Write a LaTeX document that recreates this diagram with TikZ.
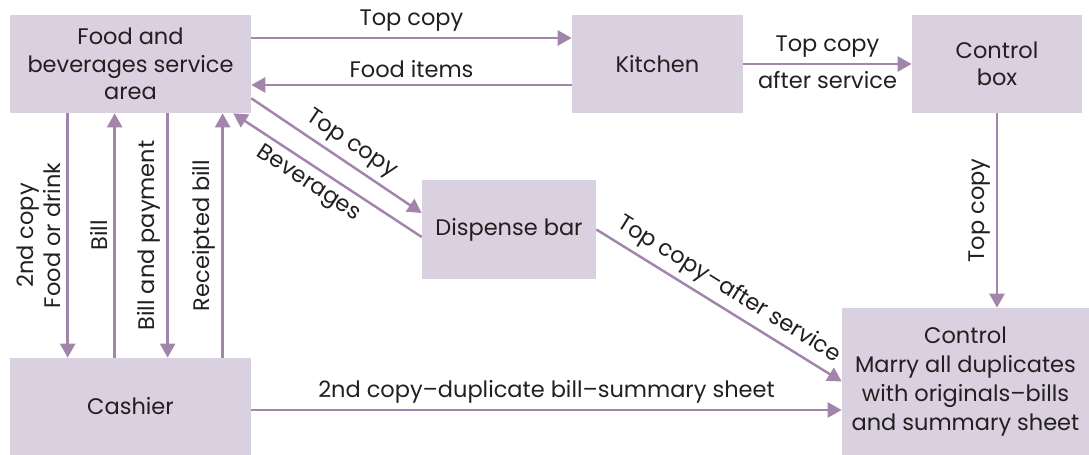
\documentclass[tikz,border=0pt]{standalone}
\usepackage{fontspec}
\setmainfont{Poppins}
\usetikzlibrary{arrows.meta}
\definecolor{boxlilac}{RGB}{217, 209, 224}
\definecolor{flowpurple}{RGB}{161, 133, 170}
\definecolor{inkgray}{RGB}{35, 31, 32}

\begin{document}
\begin{tikzpicture}[x=0.02cm, y=-0.02cm, text=inkgray, font=\fontsize{12.8}{15.5}\selectfont,
    boxnode/.style={fill=boxlilac, align=center, inner sep=2pt},
    flow/.style={draw=flowpurple, line width=1.4pt, -{Triangle[length=0.28cm, width=0.3cm]}}]
    \useasboundingbox (0,0) rectangle (1089,455);
    \node[boxnode, minimum width=4.82cm, minimum height=1.96cm] (fb) at (130.5,64) {Food and\\beverages service\\area};
    \node[boxnode, minimum width=3.42cm, minimum height=1.96cm] (kit) at (657.5,64) {Kitchen};
    \node[boxnode, minimum width=3.4cm, minimum height=1.96cm] (cbox) at (997,64) {Control\\box};
    \node[boxnode, minimum width=3.48cm, minimum height=1.98cm] (disp) at (509,229.5) {Dispense bar};
    \node[boxnode, minimum width=4.82cm, minimum height=1.94cm] (cash) at (130.5,406.5) {Cashier};
    \node[boxnode, minimum width=4.94cm, minimum height=2.94cm, font=\fontsize{12.8}{16.5}\selectfont] (ctrl) at (965.5,381.5) {Control\\Marry all duplicates\\with originals--bills\\and summary sheet};
    % top row
    \draw[flow] ([yshift=0.52cm]fb.east) -- node[above] {Top copy} ([yshift=0.52cm]kit.west);
    \draw[flow] ([yshift=-0.42cm]kit.west) -- node[above] {Food items} ([yshift=-0.42cm]fb.east);
    \draw[flow] (kit) -- node[above] {Top copy} node[below] {after service} (cbox);
    \draw[flow] (cbox.south) -- node[midway, rotate=90, anchor=south] {Top copy} (cbox.south |- ctrl.north);
    % dispense bar
    \draw[flow] ([yshift=0.3cm]fb.south east) -- node[above, sloped, pos=0.53] {Top copy} ([yshift=0.33cm]disp.west);
    \draw[flow] ([yshift=-0.15cm]disp.west) -- node[below, sloped, pos=0.55] {Beverages} ([xshift=-0.36cm]fb.south east);
    \draw[flow] (disp.east) -- node[above, sloped] {Top copy--after service} (ctrl.west);
    % cashier
    \draw[flow] ([yshift=-0.07cm]cash.east) -- node[above] {2nd copy--duplicate bill--summary sheet} ([yshift=-0.07cm]cash.east -| ctrl.west);
    \draw[flow] ([xshift=1.16cm]fb.south west) -- node[midway, rotate=90, anchor=south, align=center] {2nd copy\\Food or drink} ([xshift=1.16cm]cash.north west);
    \draw[flow] ([xshift=2.1cm]cash.north west) -- node[midway, rotate=90, anchor=south] {Bill} ([xshift=2.1cm]fb.south west);
    \draw[flow] ([xshift=3.16cm]fb.south west) -- node[midway, rotate=90, anchor=south] {Bill and payment} ([xshift=3.16cm]cash.north west);
    \draw[flow] ([xshift=4.26cm]cash.north west) -- node[midway, rotate=90, anchor=south] {Receipted bill} ([xshift=4.26cm]fb.south west);
\end{tikzpicture}
\end{document}
